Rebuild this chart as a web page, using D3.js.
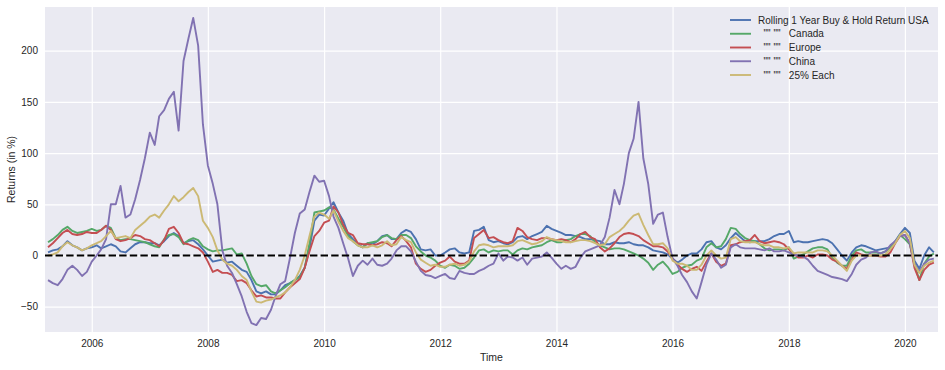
<!DOCTYPE html>
<html>
<head>
<meta charset="utf-8">
<script src="https://cdn.jsdelivr.net/npm/d3@7"></script>
<style>
  body { margin: 0; background: #fff; }
  text { font-family: "Liberation Sans", Arial, sans-serif; fill: #262626; }
</style>
</head>
<body>
<script>
// Datos: rentabilidad a 1 año (en %), un valor por mes desde abril 2005 hasta julio 2020
var usa = [3,5,6,9,14,10,8,5,7,8,
  10,7,9,11,9,4,3,7,11,13,
  13,12,12,10,14,19,22,19,12,14,
  15,11,6,0,-6,-5,-4,-7,-6,-10,
  -14,-16,-24,-35,-37,-35,-38,-38,-34,-29,
  -27,-24,-20,-12,7,34,40,39,46,52,
  42,34,21,16,11,8,12,11,14,19,
  20,16,16,22,25,23,16,6,5,6,
  0,0,3,6,7,3,2,3,24,25,
  28,15,13,14,12,11,13,18,19,16,
  19,21,23,29,26,24,22,20,20,19,
  18,16,16,15,14,11,11,13,12,12,
  13,11,10,10,8,5,4,3,1,-3,
  -7,-4,0,2,2,6,13,14,8,6,
  10,17,22,18,14,13,14,14,14,16,
  19,21,21,24,13,14,13,13,14,15,
  16,15,12,6,0,-5,3,8,10,9,
  7,5,6,7,8,14,21,27,22,-5,
  -13,0,8,3]

var canada = [13,16,20,25,28,24,22,23,24,26,
  24,25,29,27,17,15,16,16,15,14,
  13,11,9,8,16,20,21,18,11,15,
  17,15,9,6,4,5,5,6,7,1,
  2,-8,-20,-28,-30,-29,-35,-37,-34,-31,
  -27,-24,-21,-12,12,42,43,44,47,45,
  36,28,19,14,10,8,12,13,14,18,
  20,17,16,20,20,17,9,4,0,-2,
  -5,-10,-12,-9,-10,-13,-12,-8,-2,5,
  6,3,5,4,5,5,1,5,7,6,
  8,9,10,13,15,13,13,15,16,19,
  21,21,19,13,10,8,6,7,7,6,
  4,2,0,-3,-7,-14,-9,-6,-11,-18,
  -16,-12,-10,-9,-5,-3,8,12,8,9,
  16,27,26,21,17,15,14,11,7,5,
  6,6,5,8,-3,-1,1,4,7,8,
  8,6,-2,-7,-10,-10,0,5,6,3,
  3,3,2,4,8,13,20,16,11,-9,
  -24,-8,-1,2]

var europe = [8,12,17,22,25,21,20,21,23,22,
  22,25,29,25,16,14,15,17,20,19,
  16,15,12,9,15,26,28,22,12,11,
  9,7,3,-6,-16,-14,-17,-17,-19,-25,
  -24,-27,-34,-40,-39,-41,-41,-42,-42,-36,
  -31,-27,-23,-12,4,19,24,32,34,48,
  42,30,22,20,12,11,11,10,11,13,
  12,9,15,19,14,8,-8,-13,-16,-14,
  -10,-7,-5,-1,-6,-8,-8,-5,17,21,
  25,17,18,15,13,12,14,27,24,18,
  16,15,17,17,16,15,16,15,13,16,
  21,23,18,16,8,4,7,12,18,21,
  22,21,19,15,12,9,9,8,4,-3,
  -9,-13,-16,-13,-11,-15,-6,2,-6,-10,
  -8,10,11,13,14,15,20,14,12,13,
  14,13,11,6,2,-2,-2,0,-2,1,
  1,0,-4,-6,-10,-13,-4,3,1,0,
  0,0,-1,-1,3,12,19,20,12,-12,
  -24,-14,-9,-7]

var china = [-24,-27,-29,-23,-14,-10,-14,-20,-16,-6,
  0,6,16,50,50,68,37,40,55,74,
  95,120,108,136,142,153,160,122,190,212,
  232,205,128,88,70,50,5,-10,-17,-28,
  -40,-55,-66,-68,-61,-62,-53,-40,-28,-25,
  -2,22,41,45,62,78,72,73,58,38,
  27,12,-3,-20,-10,-5,-9,-3,-9,-10,
  -8,-3,5,9,9,4,-6,-15,-19,-20,
  -22,-20,-18,-22,-23,-15,-17,-18,-18,-15,
  -13,-10,-8,2,-5,-1,-2,-5,-2,-9,
  -3,-2,-1,3,-2,-8,-13,-10,-13,-11,
  -2,4,6,8,10,18,37,64,50,70,
  100,114,150,95,70,31,40,42,18,-3,
  -10,-19,-26,-35,-42,-26,-9,2,-4,-12,
  -9,8,11,8,7,7,7,6,5,7,
  4,4,5,3,1,0,-1,-4,-10,-15,
  -17,-19,-21,-22,-23,-25,-18,-9,-4,-2,
  3,4,2,4,10,14,19,20,12,-8,
  -16,-8,-4,-3]

var cada25 = [0,1,3,9,13,10,8,5,7,10,
  12,14,19,24,17,18,19,17,25,29,
  33,38,40,37,44,50,58,53,57,62,
  66,58,34,27,18,5,-4,-8,-10,-14,
  -20,-24,-35,-45,-46,-44,-43,-41,-39,-36,
  -31,-24,-14,0,19,38,42,40,36,44,
  33,24,17,14,10,8,8,10,8,10,
  14,10,11,18,15,13,3,-4,-7,-10,
  -9,-11,-11,-9,-8,-10,-9,-6,4,10,
  11,10,8,9,9,9,10,14,15,13,
  11,12,14,18,16,15,14,13,13,14,
  15,15,14,12,10,11,18,21,24,28,
  34,39,41,30,20,11,11,12,7,-5,
  -8,-8,-10,-14,-14,-9,0,5,0,-3,
  -2,16,18,14,13,13,13,11,10,10,
  8,8,7,8,2,3,3,3,3,5,
  5,4,0,-5,-10,-15,-5,0,0,0,
  0,0,0,1,6,12,20,24,17,-9,
  -17,-10,-7,-5]

var etiquetas = ["Rolling 1 Year Buy & Hold Return USA",
  '  "" ""   Canada',
  '  "" ""   Europe',
  '  "" ""   China',
  '  "" ""   25% Each']
var colores = ["#4C72B0", "#55A868", "#C44E52", "#8172B2", "#CCB974"]
var anios = [2006, 2008, 2010, 2012, 2014, 2016, 2018, 2020]
var ticksY = [-50, 0, 50, 100, 150, 200]

var meses = d3.timeMonth.range(new Date(2005, 3, 1), new Date(2020, 7, 1))
var series = [usa, canada, europe, china, cada25]

var width = 945
var height = 370
var margin = { top: 7, right: 7, bottom: 38, left: 45 }
var innerW = width - margin.left - margin.right
var innerH = height - margin.top - margin.bottom

var escalaX = d3.scaleTime()
  .domain([new Date(2005, 2, 13), new Date(2020, 6, 27)])
  .range([0, innerW])

var escalaY = d3.scaleLinear()
  .domain([-74.7, 242.7])
  .range([innerH, 0])

var svg = d3.select("body")
  .append("svg")
  .attr("width", width)
  .attr("height", height)

var g = svg.append("g")
  .attr("transform", "translate(" + margin.left + "," + margin.top + ")")

// fondo estilo seaborn
g.append("rect")
  .attr("width", innerW)
  .attr("height", innerH)
  .attr("fill", "#EAEAF2")

// rejilla blanca
g.append("g")
  .attr("transform", "translate(0," + innerH + ")")
  .call(d3.axisBottom(escalaX).tickValues(anios.map(a => new Date(a, 0, 1))).tickSize(-innerH).tickFormat(""))
  .call(s => s.select(".domain").remove())
  .selectAll("line").attr("stroke", "#fff").attr("stroke-width", 1.2)

g.append("g")
  .call(d3.axisLeft(escalaY).tickValues(ticksY).tickSize(-innerW).tickFormat(""))
  .call(s => s.select(".domain").remove())
  .selectAll("line").attr("stroke", "#fff").attr("stroke-width", 1.2)

// etiquetas de los ejes
var ejeX = g.append("g")
  .attr("transform", "translate(0," + innerH + ")")
  .call(d3.axisBottom(escalaX).tickValues(anios.map(a => new Date(a, 0, 1))).tickSize(0).tickPadding(8).tickFormat(d3.timeFormat("%Y")))
ejeX.select(".domain").remove()
ejeX.selectAll("text").style("font-size", "10px").attr("fill", "#262626")

var ejeY = g.append("g")
  .call(d3.axisLeft(escalaY).tickValues(ticksY).tickSize(0).tickPadding(7).tickFormat(d => d < 0 ? "\u2212" + Math.abs(d) : d))
ejeY.select(".domain").remove()
ejeY.selectAll("text").style("font-size", "10px").attr("fill", "#262626")

// lineas
var linea = d3.line()
  .x((d, i) => escalaX(meses[i]))
  .y(d => escalaY(d))

var zona = g.append("g")
zona.append("clipPath").attr("id", "corte")
  .append("rect").attr("width", innerW).attr("height", innerH)

zona.selectAll("path.serie")
  .data(series)
  .enter()
  .append("path")
  .attr("class", "serie")
  .attr("clip-path", "url(#corte)")
  .attr("d", linea)
  .attr("fill", "none")
  .attr("stroke", (d, i) => colores[i])
  .attr("stroke-width", 1.9)
  .attr("stroke-linejoin", "round")

// linea del cero
g.append("line")
  .attr("x1", 0).attr("x2", innerW)
  .attr("y1", escalaY(0)).attr("y2", escalaY(0))
  .attr("stroke", "#000")
  .attr("stroke-width", 2)
  .attr("stroke-dasharray", "7.4,3.2")

// titulos de ejes
svg.append("text")
  .attr("x", margin.left + innerW / 2)
  .attr("y", 361)
  .attr("text-anchor", "middle")
  .style("font-size", "10.5px")
  .text("Time")

svg.append("text")
  .attr("transform", "translate(15," + (margin.top + innerH / 2) + ") rotate(-90)")
  .attr("text-anchor", "middle")
  .style("font-size", "10.5px")
  .text("Returns (in %)")

// leyenda
var leyenda = svg.append("g")
  .selectAll("g")
  .data(etiquetas)
  .enter()
  .append("g")
  .attr("transform", (d, i) => "translate(730," + (20 + i * 13.75) + ")")

leyenda.append("line")
  .attr("x1", 0).attr("x2", 21)
  .attr("stroke", (d, i) => colores[i])
  .attr("stroke-width", 1.9)

leyenda.append("text")
  .attr("x", 28)
  .attr("dy", "0.35em")
  .style("font-size", "10px")
  .style("white-space", "pre")
  .text(d => d)
</script>
</body>
</html>
